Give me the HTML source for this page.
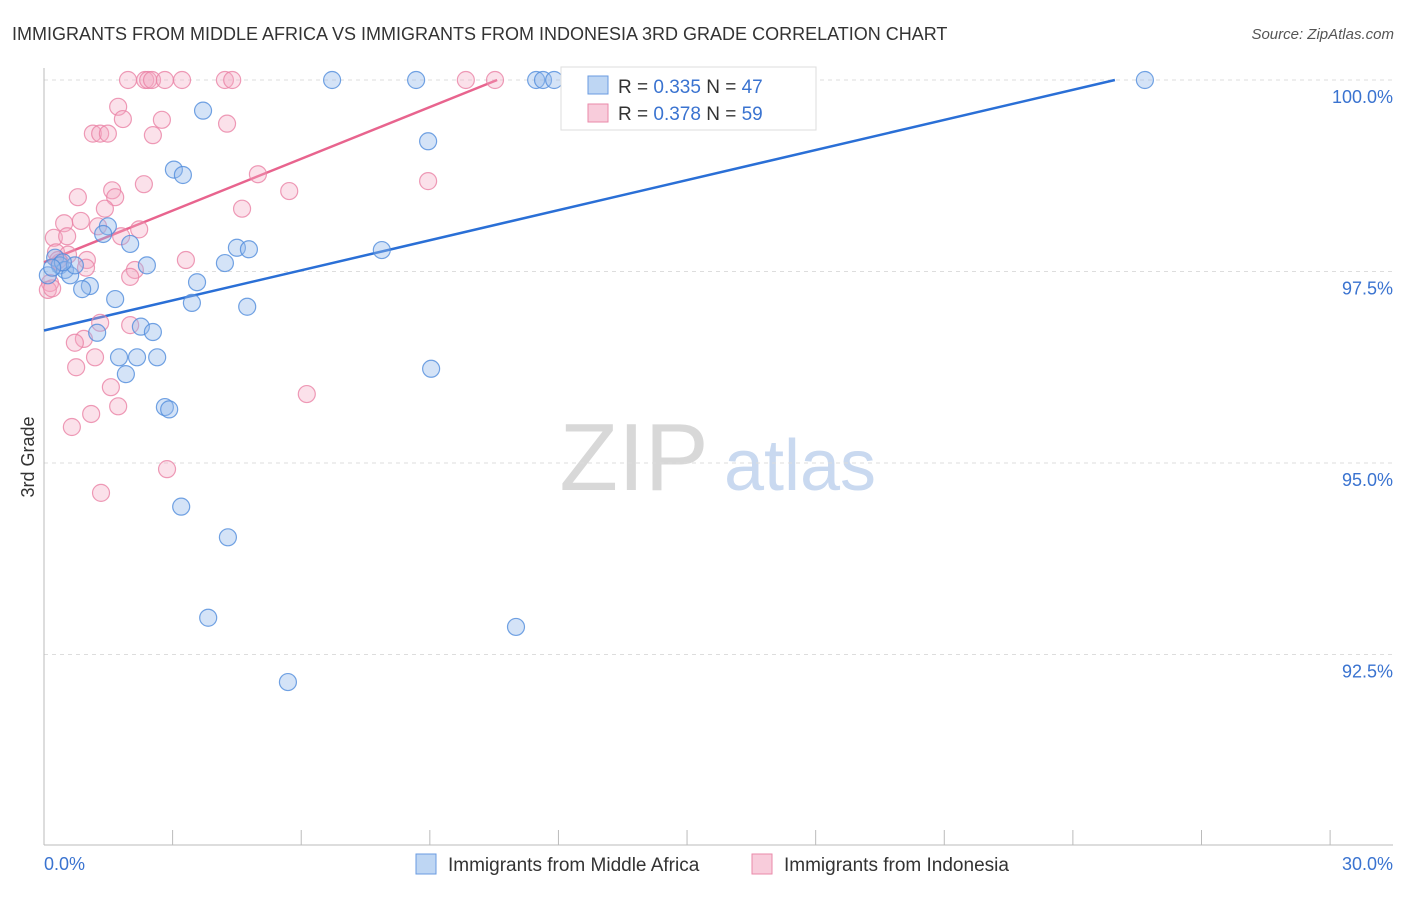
<!DOCTYPE html>
<html><head><meta charset="utf-8"><style>
body{margin:0;background:#fff;font-family:"Liberation Sans",sans-serif;}
svg text{font-family:"Liberation Sans",sans-serif;}
</style></head><body>
<svg id="c" width="1406" height="892" viewBox="0 0 1406 892" xmlns="http://www.w3.org/2000/svg">
<text x="12" y="40" font-size="18" fill="#333">IMMIGRANTS FROM MIDDLE AFRICA VS IMMIGRANTS FROM INDONESIA 3RD GRADE CORRELATION CHART</text>
<text x="1394" y="39" font-size="15" fill="#555" font-style="italic" text-anchor="end">Source: ZipAtlas.com</text>
<g><text x="634" y="490" font-size="96" fill="#d8d8d8" font-family="Liberation Serif" text-anchor="middle">ZIP</text><text x="800" y="490" font-size="72" fill="#c9d9f0" text-anchor="middle">atlas</text></g>
<g id="grid"></g><g id="axes"></g><g id="trend"></g><g id="pts"></g>
<text transform="translate(34,457) rotate(-90)" font-size="18" fill="#333" text-anchor="middle">3rd Grade</text>
<g>
<rect x="561" y="67" width="255" height="63" fill="#fff" stroke="#ddd"/>
<rect x="588" y="76" width="20" height="18" fill="rgba(147,186,235,0.6)" stroke="#6a9be0"/>
<text x="618" y="93" font-size="19" fill="#333">R = <tspan fill="#3a73d0">0.335</tspan>   N = <tspan fill="#3a73d0">47</tspan></text>
<rect x="588" y="104" width="20" height="18" fill="rgba(244,170,195,0.6)" stroke="#ea8aaa"/>
<text x="618" y="120" font-size="19" fill="#333">R = <tspan fill="#3a73d0">0.378</tspan>   N = <tspan fill="#3a73d0">59</tspan></text>
</g>
<g><rect x="416" y="854" width="20" height="20" fill="rgba(147,186,235,0.6)" stroke="#6a9be0"/><text x="448" y="871" font-size="19" fill="#333">Immigrants from Middle Africa</text></g>
<g><rect x="752" y="854" width="20" height="20" fill="rgba(244,170,195,0.6)" stroke="#ea8aaa"/><text x="784" y="871" font-size="19" fill="#333">Immigrants from Indonesia</text></g>
</svg>
<script>
const blueX=[6.72,8.68,11.48,11.64,11.90,25.68,3.71,8.96,3.03,3.24,1.49,1.38,2.01,4.50,4.78,7.88,4.22,2.40,0.26,0.37,0.49,0.09,0.61,1.07,0.89,3.57,1.66,3.45,4.74,1.24,2.26,2.54,1.75,2.17,2.64,1.91,9.03,2.82,2.92,3.20,4.29,3.83,11.01,5.69,0.72,0.44,0.19];
const blueY=[100,100,100,100,100,100,99.60,99.20,98.83,98.76,98.09,97.99,97.86,97.81,97.79,97.78,97.61,97.58,97.68,97.58,97.52,97.45,97.45,97.31,97.27,97.36,97.14,97.09,97.04,96.70,96.78,96.71,96.38,96.38,96.38,96.16,96.23,95.73,95.70,94.43,94.03,92.98,92.86,92.14,97.58,97.62,97.55];
const pinkX=[1.96,2.36,2.43,2.52,2.82,3.22,4.22,4.39,9.84,10.52,1.73,1.84,2.75,1.14,1.31,1.49,2.54,4.27,4.99,5.72,8.96,2.33,1.59,1.66,0.79,1.42,4.62,0.47,0.86,1.26,2.22,1.80,0.23,0.54,0.28,0.56,1.00,0.37,3.31,2.12,2.01,0.98,0.14,0.09,0.19,1.31,2.01,0.93,0.72,1.19,0.75,1.56,1.73,1.10,0.65,6.13,2.87,1.33,0.33];
const pinkY=[100,100,100,100,100,100,100,100,100,100,99.65,99.49,99.48,99.30,99.30,99.30,99.28,99.43,98.77,98.55,98.68,98.64,98.56,98.47,98.47,98.32,98.32,98.13,98.16,98.09,98.05,97.96,97.94,97.96,97.75,97.72,97.65,97.62,97.65,97.52,97.43,97.55,97.35,97.26,97.28,96.83,96.80,96.62,96.57,96.38,96.25,95.99,95.74,95.64,95.47,95.90,94.92,94.61,97.65];
const blueTrendX=[0,24.98];
const blueTrendY=[96.73,100];
const pinkTrendX=[0,10.57];
const pinkTrendY=[97.62,100];
const yTicks=[100,97.5,95,92.5];
const yTickLabels=["100.0%","97.5%","95.0%","92.5%"];
const NS="http://www.w3.org/2000/svg";
const sx=v=>44+v*42.87;
const sy=v=>80+(100-v)*76.6;
function mk(t,a,p){const e=document.createElementNS(NS,t);for(const k in a)e.setAttribute(k,a[k]);p.appendChild(e);return e;}
const grid=document.getElementById('grid'),axes=document.getElementById('axes'),tr=document.getElementById('trend'),pts=document.getElementById('pts');
yTicks.forEach((t,i)=>{
 const l=mk('line',{x1:44,x2:1393,y1:sy(t),y2:sy(t),stroke:'#ddd','stroke-dasharray':'4,4'},grid);
 
 
 const tx=mk('text',{x:1393,y:sy(t)+23,'font-size':18,fill:'#3a73d0','text-anchor':'end'},axes);
 tx.textContent=yTickLabels[i];
 
 
});
mk('line',{x1:44,x2:44,y1:68,y2:845,stroke:'#bbb'},axes);
mk('line',{x1:44,x2:1393,y1:845,y2:845,stroke:'#bbb'},axes);
for(let i=1;i<=10;i++){const t=mk('line',{x1:sx(i*3),x2:sx(i*3),y1:830,y2:845,stroke:'#bbb'},axes);}
const x0=mk('text',{x:44,y:870,'font-size':18,fill:'#3a73d0'},axes);x0.textContent='0.0%';


const x1=mk('text',{x:1393,y:870,'font-size':18,fill:'#3a73d0','text-anchor':'end'},axes);x1.textContent='30.0%';


function dots(X,Y,fill,stroke,name){X.forEach((x,i)=>{const c=mk('circle',{cx:sx(x),cy:sy(Y[i]),r:8.5,fill:fill,stroke:stroke,'stroke-width':1.2},pts);
 
 });}
dots(pinkX,pinkY,'rgba(244,170,195,0.35)','rgba(234,130,165,0.8)','indonesia-point');
dots(blueX,blueY,'rgba(147,186,235,0.4)','rgba(80,140,220,0.8)','middle-africa-point');
const bl=mk('line',{x1:sx(blueTrendX[0]),y1:sy(blueTrendY[0]),x2:sx(blueTrendX[1]),y2:sy(blueTrendY[1]),stroke:'#2a6fd6','stroke-width':2.5},tr);


const pl=mk('line',{x1:sx(pinkTrendX[0]),y1:sy(pinkTrendY[0]),x2:sx(pinkTrendX[1]),y2:sy(pinkTrendY[1]),stroke:'#e8648e','stroke-width':2.5},tr);


</script>
</body></html>
